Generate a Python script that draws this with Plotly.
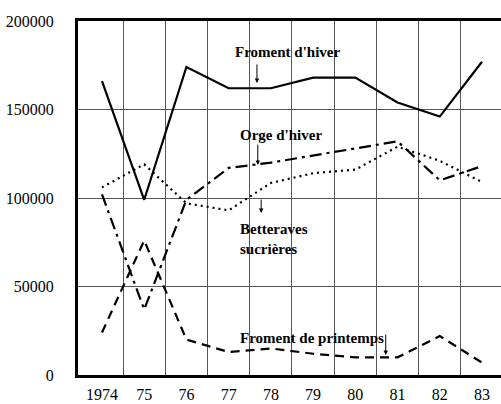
import plotly.graph_objects as go

years = ["1974", "75", "76", "77", "78", "79", "80", "81", "82", "83"]
xpos = list(range(len(years)))

froment_hiver = [166000, 99000, 174000, 162000, 162000, 168000, 168000, 154000, 146000, 177000]
orge_hiver = [102000, 37000, 99000, 117000, 120000, 124000, 128000, 132000, 110000, 118000]
betteraves = [106000, 119000, 97000, 93000, 108500, 114000, 116000, 129000, 121000, 109000]
froment_printemps = [24000, 76000, 20000, 13000, 15000, 12000, 10000, 10000, 22000, 7000]

y_ticks = [0, 50000, 100000, 150000, 200000]
grid_x = [i + 0.5 for i in range(len(years) - 1)]

FONT = "Liberation Serif"

fig = go.Figure()
fig.add_trace(go.Scatter(x=xpos, y=froment_hiver, mode="lines",
                         line=dict(color="black", width=2.2)))
fig.add_trace(go.Scatter(x=xpos, y=orge_hiver, mode="lines",
                         line=dict(color="black", width=2.2, dash="12px,5px,3px,5px")))
fig.add_trace(go.Scatter(x=xpos, y=betteraves, mode="lines",
                         line=dict(color="black", width=2.2, dash="2px,4px")))
fig.add_trace(go.Scatter(x=xpos, y=froment_printemps, mode="lines",
                         line=dict(color="black", width=2.2, dash="9px,6px")))

lab_font = dict(family=FONT, size=15, color="black")
annos = [
    dict(text="<b>Froment d'hiver</b>", x=3.10, y=182500),
    dict(text="<b>Orge d'hiver</b>", x=3.22, y=135600),
    dict(text="<b>Betteraves<br>sucrières</b>", x=3.22, y=77100),
    dict(text="<b>Froment de printemps</b>", x=3.22, y=20900),
]
for a in annos:
    fig.add_annotation(x=a["x"], y=a["y"], text=a["text"], showarrow=False,
                       xanchor="left", yanchor="middle", align="left", font=lab_font)

arrows = [
    (3.67, 165000, -20),
    (3.69, 118600, -22),
    (3.77, 91500, -15),
    (6.72, 11300, -22),
]
for ax_, ay_, off in arrows:
    fig.add_annotation(x=ax_, y=ay_, text="", showarrow=True, ax=0, ay=off,
                       arrowhead=2, arrowsize=0.9, arrowwidth=1, arrowcolor="black")

fig.update_layout(
    width=501, height=404,
    margin=dict(l=78, r=0, t=21, b=29),
    paper_bgcolor="white", plot_bgcolor="white",
    showlegend=False,
    font=dict(family=FONT, size=16, color="black"),
)
fig.update_xaxes(
    range=[-0.568, 9.45], tickvals=xpos, ticktext=years,
    showgrid=False, zeroline=False,
    showline=True, linecolor="black", linewidth=3, mirror=True,
    ticks="", ticklabelstandoff=3,
    tickfont=dict(family=FONT, size=16, color="black"),
    minor=dict(tickmode="array", tickvals=grid_x, showgrid=True,
               gridcolor="#555555", gridwidth=1, ticks=""),
)
fig.update_yaxes(
    range=[0, 200000], tickvals=y_ticks, ticktext=[str(v) for v in y_ticks],
    showgrid=True, gridcolor="#555555", gridwidth=1, zeroline=False,
    showline=True, linecolor="black", linewidth=3,
    ticks="", ticklabelstandoff=18,
    tickfont=dict(family=FONT, size=16, color="black"),
)

fig.write_html("out.html", config={"displayModeBar": False},
               post_script="document.body.style.margin='0';document.body.style.padding='0';")
